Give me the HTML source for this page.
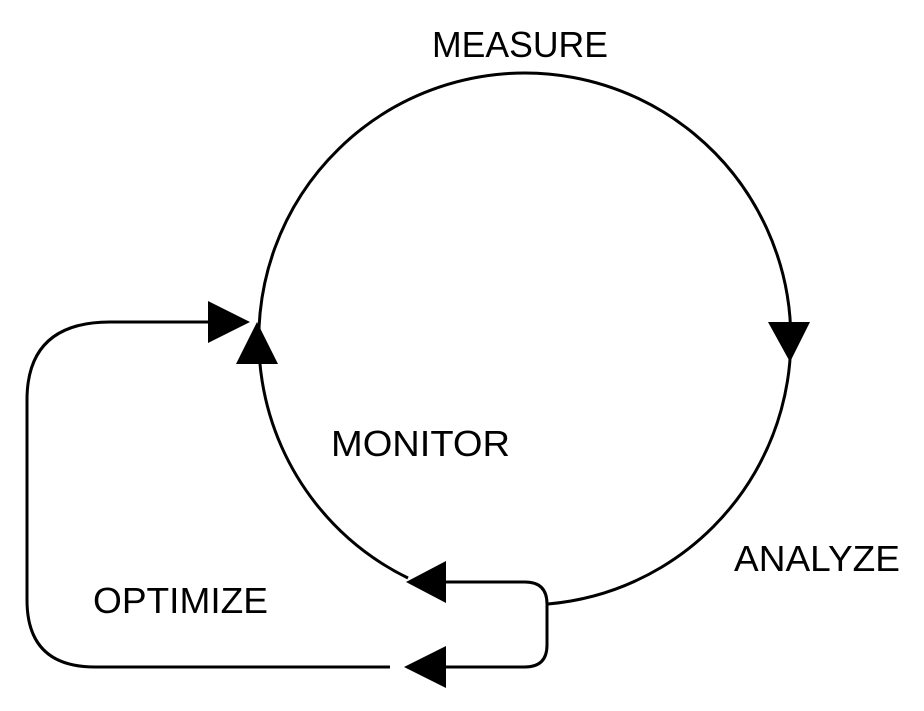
<!DOCTYPE html>
<html><head><meta charset="utf-8"><style>
html,body{margin:0;padding:0;background:#fff;}
svg{display:block;}
text{font-family:"Liberation Sans",sans-serif;font-size:36px;fill:#000;}
</style></head><body>
<svg width="924" height="711" viewBox="0 0 924 711">
<g fill="none" stroke="#000" stroke-width="3">
<path d="M 408 578 A 266 266 0 1 1 548 604"/>
<path d="M 446 582 L 525 582 Q 547 582 547 604 L 547 645 Q 547 667 525 667 L 446 667"/>
<path d="M 390 667 L 95 667 Q 27 667 27 600 L 27 400 Q 27 322 110 322 L 210 322"/>
</g>
<g fill="#000">
<polygon points="406,582 446,561 446,603"/>
<polygon points="404,667 446,646 446,688"/>
<polygon points="250,322 208,301 208,343"/>
<polygon points="257,322 236,364 278,364"/>
<polygon points="790,362 768,322 810,322"/>
</g>
<text x="432" y="57" textLength="176" lengthAdjust="spacingAndGlyphs">MEASURE</text>
<text x="331" y="456" textLength="179" lengthAdjust="spacingAndGlyphs">MONITOR</text>
<text x="734" y="571" textLength="166" lengthAdjust="spacingAndGlyphs">ANALYZE</text>
<text x="93" y="613" textLength="175" lengthAdjust="spacingAndGlyphs">OPTIMIZE</text>
</svg>
</body></html>
